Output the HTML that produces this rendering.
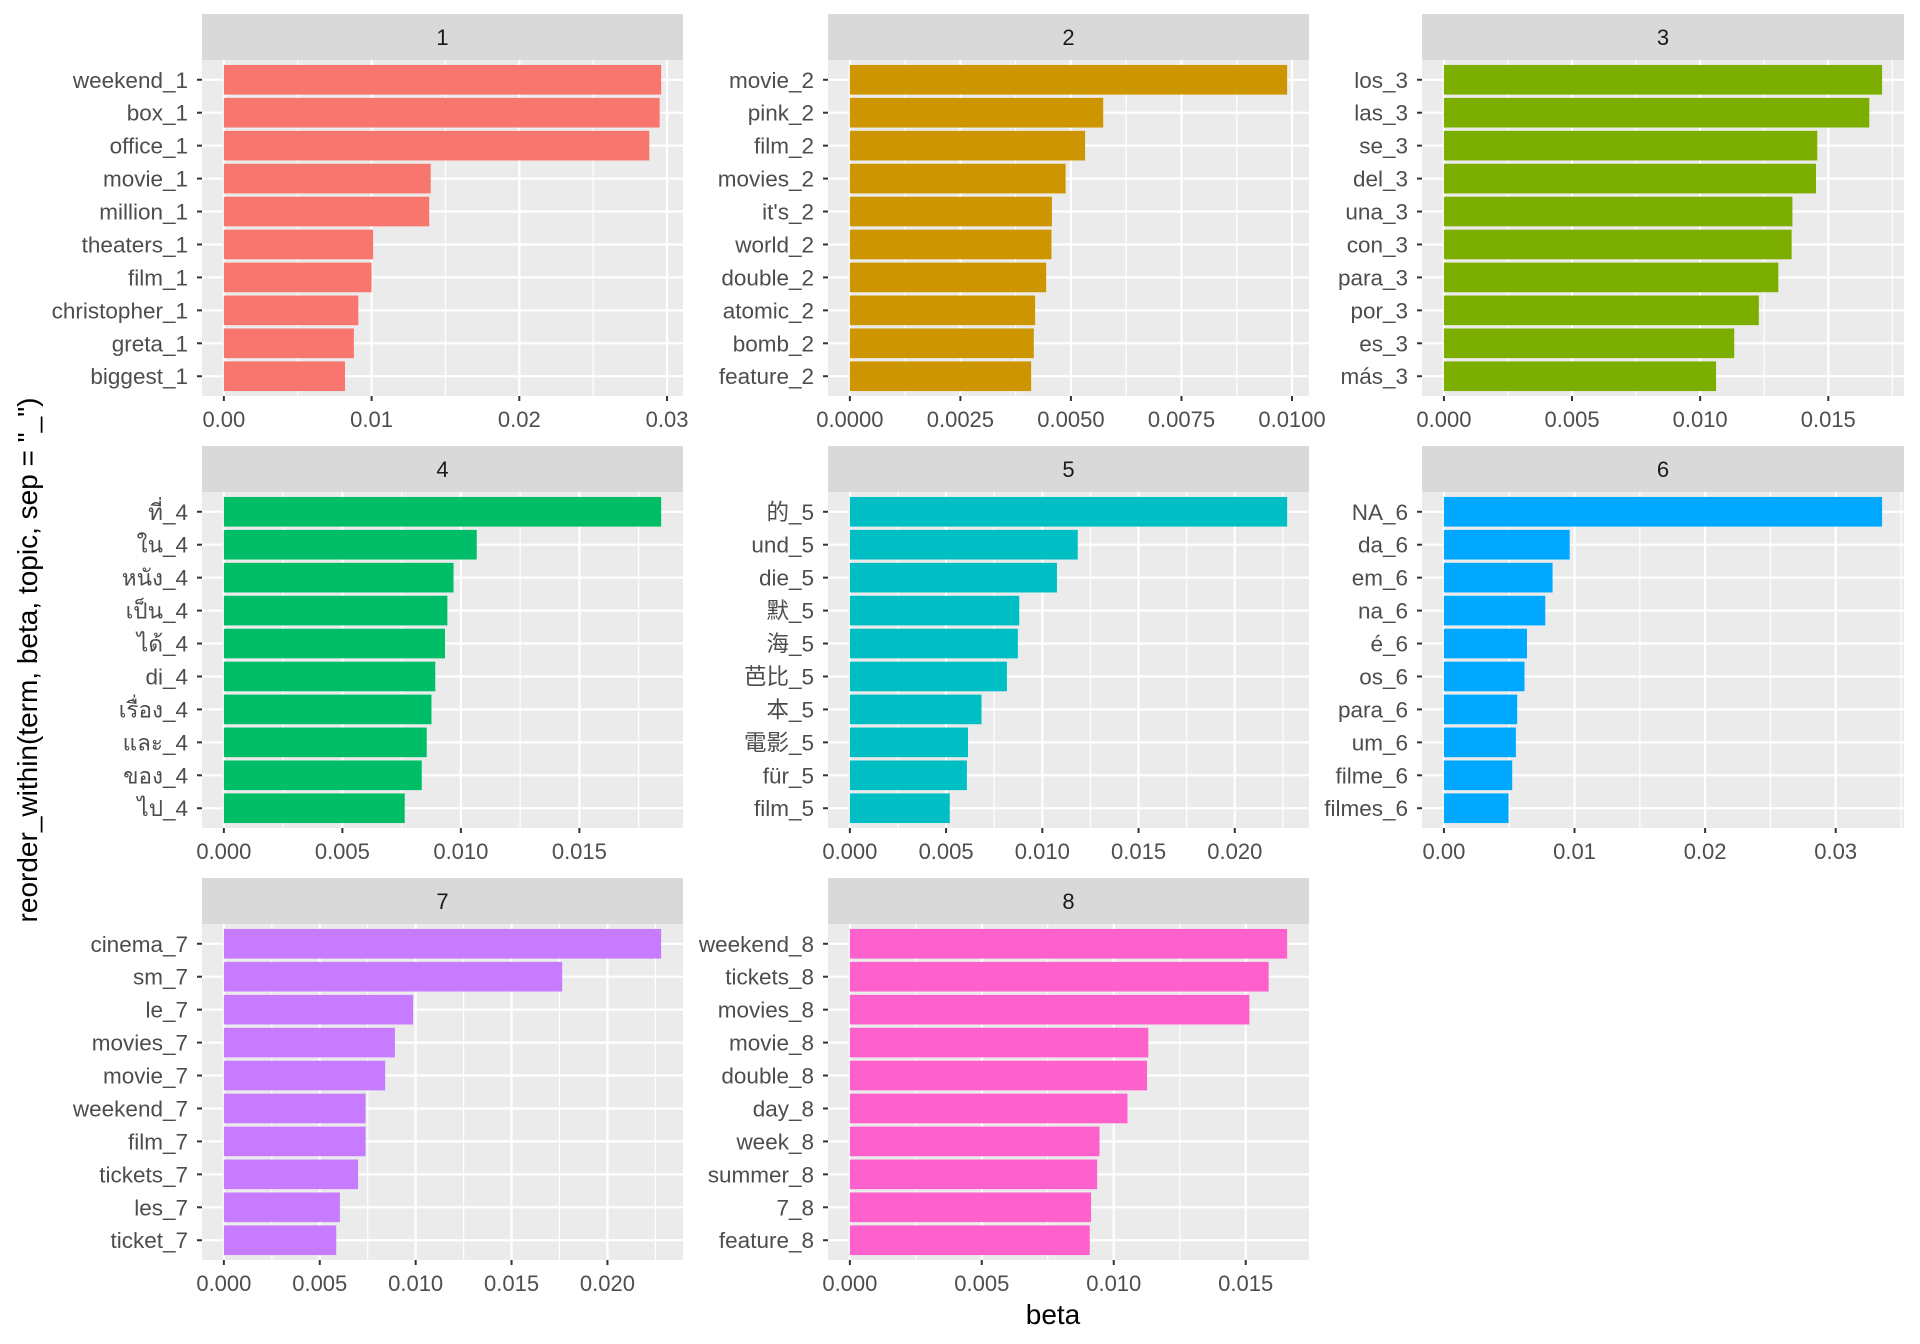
<!DOCTYPE html>
<html><head><meta charset="utf-8">
<style>
html,body{margin:0;padding:0;background:#fff;}
svg{display:block;font-family:"Liberation Sans","Noto Sans CJK SC",sans-serif;}
</style></head>
<body>
<svg id="chart" width="1920" height="1344" viewBox="0 0 1920 1344" xmlns="http://www.w3.org/2000/svg">
<rect x="0" y="0" width="1920" height="1344" fill="#fff"/>
<text x="1053" y="1324" font-size="28" text-anchor="middle" fill="#000">beta</text>
<text x="0" y="0" font-size="28" text-anchor="middle" fill="#000" transform="translate(37,660) rotate(-90)">reorder_within(term, beta, topic, sep = "_")</text>
</svg>
<script>
const topics = ["1","2","3","4","5","6","7","8"];
const colors = ["#F8766D","#CD9600","#7CAE00","#00BE67","#00BFC4","#00A9FF","#C77CFF","#FF61CC"];
const terms1 = ["weekend_1","box_1","office_1","movie_1","million_1","theaters_1","film_1","christopher_1","greta_1","biggest_1"];
const values1 = [0.0296,0.0295,0.0288,0.0140,0.0139,0.0101,0.0100,0.0091,0.0088,0.0082];
const terms2 = ["movie_2","pink_2","film_2","movies_2","it's_2","world_2","double_2","atomic_2","bomb_2","feature_2"];
const values2 = [0.00989,0.00573,0.00532,0.00488,0.00457,0.00456,0.00444,0.00419,0.00416,0.0041];
const terms3 = ["los_3","las_3","se_3","del_3","una_3","con_3","para_3","por_3","es_3","más_3"];
const values3 = [0.0171,0.0166,0.01457,0.01452,0.0136,0.01357,0.01305,0.01229,0.01133,0.01062];
const terms4 = ["ที่_4","ใน_4","หนัง_4","เป็น_4","ได้_4","di_4","เรื่อง_4","และ_4","ของ_4","ไป_4"];
const values4 = [0.01845,0.01067,0.00969,0.00943,0.00933,0.00892,0.00876,0.00856,0.00835,0.00763];
const terms5 = ["的_5","und_5","die_5","默_5","海_5","芭比_5","本_5","電影_5","für_5","film_5"];
const values5 = [0.02272,0.01184,0.01076,0.0088,0.00873,0.00816,0.00684,0.00614,0.00608,0.00519];
const terms6 = ["NA_6","da_6","em_6","na_6","é_6","os_6","para_6","um_6","filme_6","filmes_6"];
const values6 = [0.03355,0.00963,0.00832,0.00776,0.00636,0.00617,0.00561,0.00551,0.00523,0.00495];
const terms7 = ["cinema_7","sm_7","le_7","movies_7","movie_7","weekend_7","film_7","tickets_7","les_7","ticket_7"];
const values7 = [0.0228,0.01764,0.00987,0.00892,0.00841,0.00739,0.00739,0.007,0.00605,0.00586];
const terms8 = ["weekend_8","tickets_8","movies_8","movie_8","double_8","day_8","week_8","summer_8","7_8","feature_8"];
const values8 = [0.01657,0.01587,0.01514,0.01131,0.01126,0.01052,0.00946,0.00937,0.00914,0.00909];
const breaks1 = [0,0.01,0.02,0.03]; const labels1 = ["0.00","0.01","0.02","0.03"];
const breaks2 = [0,0.0025,0.005,0.0075,0.01]; const labels2 = ["0.0000","0.0025","0.0050","0.0075","0.0100"];
const breaks3 = [0,0.005,0.01,0.015]; const labels3 = ["0.000","0.005","0.010","0.015"];
const breaks4 = [0,0.005,0.01,0.015]; const labels4 = ["0.000","0.005","0.010","0.015"];
const breaks5 = [0,0.005,0.01,0.015,0.02]; const labels5 = ["0.000","0.005","0.010","0.015","0.020"];
const breaks6 = [0,0.01,0.02,0.03]; const labels6 = ["0.00","0.01","0.02","0.03"];
const breaks7 = [0,0.005,0.01,0.015,0.02]; const labels7 = ["0.000","0.005","0.010","0.015","0.020"];
const breaks8 = [0,0.005,0.01,0.015]; const labels8 = ["0.000","0.005","0.010","0.015"];

const allTerms=[terms1,terms2,terms3,terms4,terms5,terms6,terms7,terms8];
const allValues=[values1,values2,values3,values4,values5,values6,values7,values8];
const allBreaks=[breaks1,breaks2,breaks3,breaks4,breaks5,breaks6,breaks7,breaks8];
const allLabels=[labels1,labels2,labels3,labels4,labels5,labels6,labels7,labels8];

const NS="http://www.w3.org/2000/svg";
const svg=document.getElementById("chart");
function mk(tag,attrs,parent){const e=document.createElementNS(NS,tag);for(const k in attrs)e.setAttribute(k,attrs[k]);(parent||svg).appendChild(e);return e;}
const colX=[[202,683],[828,1309],[1422,1904]];
for(let p=0;p<8;p++){
  const col=p%3,row=Math.floor(p/3);
  const L=colX[col][0],R=colX[col][1];
  const sTop=14+432*row,T=60+432*row,B=396+432*row;
  const W=R-L,H=B-T;
  const vals=allValues[p],trm=allTerms[p],brk=allBreaks[p],lab=allLabels[p];
  const mx=Math.max(...vals);
  const span=mx*1.1;
  const xs=v=>L+(v+mx*0.05)/span*W;
  const n=trm.length;
  const unit=H/(n-1+1.2);
  const ys=i=>T+(0.6+i)*unit;
  const g=mk("g",{});
  
  
  const strip=mk("rect",{x:L,y:sTop,width:W,height:T-sTop,fill:"#D9D9D9"},g);
  
  
  const st=mk("text",{x:(L+R)/2,y:(sTop+T)/2+8,"font-size":22,"text-anchor":"middle",fill:"#1A1A1A"},g);
  st.textContent=topics[p];
  
  
  const bg=mk("rect",{x:L,y:T,width:W,height:H,fill:"#EBEBEB"},g);
  
  
  const step=brk[1]-brk[0];
  for(let m=-0.5*step;m<=mx*1.05+1e-9;m+=step){
    if(m< -mx*0.05) continue;
    const x=xs(m);
    if(x<L||x>R) continue;
    const ml=mk("line",{x1:x,x2:x,y1:T,y2:B,stroke:"#fff","stroke-width":1.2},g);
    
    
  }
  for(let i=0;i<n;i++){
    const gl=mk("line",{x1:L,x2:R,y1:ys(i),y2:ys(i),stroke:"#fff","stroke-width":2.2},g);
    
    
  }
  brk.forEach((b,i)=>{
    const x=xs(b);
    const gl=mk("line",{x1:x,x2:x,y1:T,y2:B,stroke:"#fff","stroke-width":2.2},g);
    
    
    const tk=mk("line",{x1:x,x2:x,y1:B,y2:B+5,stroke:"#333","stroke-width":2},g);
    
    
    const t=mk("text",{x:x,y:B+31,"font-size":22,"text-anchor":"middle",fill:"#4D4D4D"},g);
    t.textContent=lab[i];
    
    
  });
  for(let i=0;i<n;i++){
    const y=ys(i);
    const bar=mk("rect",{x:xs(0),y:y-0.45*unit,width:xs(vals[i])-xs(0),height:0.9*unit,fill:colors[p]},g);
    
    
    const tk=mk("line",{x1:L-5,x2:L,y1:y,y2:y,stroke:"#333","stroke-width":2},g);
    
    
    const t=mk("text",{x:L-14,y:y+8,"font-size":22.5,"text-anchor":"end",fill:"#4D4D4D"},g);
    t.textContent=trm[i];
    
    
  }
}
</script>
</body></html>
